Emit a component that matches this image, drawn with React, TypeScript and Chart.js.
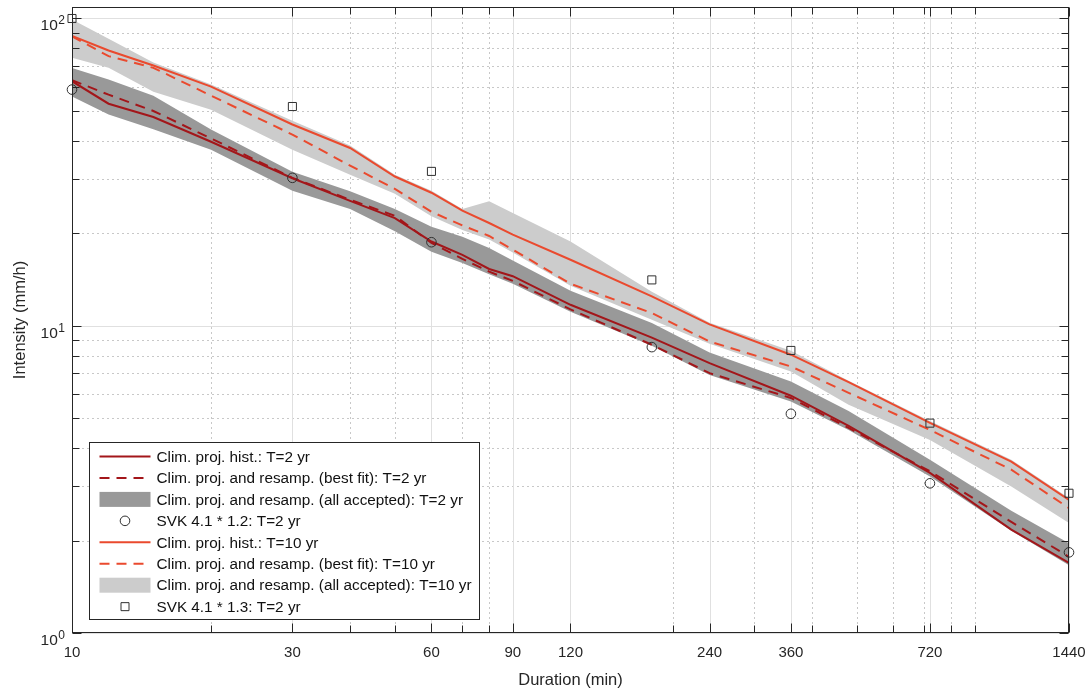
import React, { useEffect, useRef } from 'react';
import { Chart, registerables } from 'chart.js';

Chart.register(...registerables);

// ---------- data ----------
const DURATIONS = [10, 12, 15, 20, 30, 40, 50, 60, 70, 80, 90, 120, 180, 240, 360, 480, 720, 1080, 1440];

const HIST_T2 = [62.5, 52.8, 47.8, 39.7, 30.2, 25.5, 22.4, 18.8, 17.0, 15.3, 14.5, 11.7, 9.15, 7.56, 5.92, 4.72, 3.32, 2.17, 1.69];
const BEST_T2 = [63.0, 56.5, 50.0, 40.7, 30.3, 25.7, 22.8, 18.6, 16.5, 15.0, 14.0, 11.3, 8.67, 7.01, 5.82, 4.65, 3.36, 2.30, 1.77];
const BAND_T2_UPPER = [69.0, 63.3, 56.1, 43.5, 31.7, 27.4, 24.0, 21.0, 19.5, 17.9, 16.3, 13.0, 10.2, 8.18, 6.59, 5.28, 3.66, 2.50, 1.96];
const BAND_T2_LOWER = [55.7, 48.7, 43.6, 37.4, 27.5, 24.0, 20.3, 17.4, 16.0, 14.7, 13.7, 11.1, 8.61, 6.92, 5.67, 4.58, 3.23, 2.15, 1.66];

const HIST_T10 = [87.8, 78.7, 70.3, 60.0, 45.2, 37.9, 30.6, 27.1, 23.7, 21.6, 19.8, 16.4, 12.46, 10.1, 8.05, 6.55, 4.83, 3.61, 2.71];
const BEST_T10 = [87.5, 75.4, 69.1, 56.1, 41.9, 33.2, 27.9, 23.5, 21.2, 19.6, 17.7, 13.7, 11.0, 8.89, 7.37, 6.05, 4.58, 3.40, 2.55];
const BAND_T10_UPPER = [99.3, 85.9, 71.9, 61.0, 46.5, 38.6, 31.0, 27.5, 24.0, 25.4, 23.3, 18.8, 12.9, 10.23, 8.29, 6.62, 4.90, 3.66, 2.75];
const BAND_T10_LOWER = [74.5, 69.2, 57.8, 50.5, 37.4, 31.0, 26.9, 22.7, 20.5, 19.1, 17.3, 13.5, 10.46, 8.74, 7.10, 5.53, 4.25, 3.00, 2.28];

const SVK_DURATIONS = [10, 30, 60, 180, 360, 720, 1440];
const SVK_12 = [58.7, 30.3, 18.7, 8.52, 5.17, 3.07, 1.83];
const SVK_13 = [100, 51.7, 31.8, 14.1, 8.31, 4.82, 2.85];

const X_TICKS = [10, 30, 60, 90, 120, 240, 360, 720, 1440];
const X_TICK_LABELS = ['10', '30', '60', '90', '120', '240', '360', '720', '1440'];
const X_MINOR = [20, 30, 40, 50, 60, 70, 80, 90, 200, 300, 400, 500, 600, 700, 800, 900];
const Y_TICKS = [1, 10, 100];
const Y_TICK_BASE = ['10', '10', '10'];
const Y_TICK_EXP = ['0', '1', '2'];
const Y_MINOR = [2, 3, 4, 5, 6, 7, 8, 9, 20, 30, 40, 50, 60, 70, 80, 90];

const LABELS = {
  histT2: 'Clim. proj. hist.: T=2 yr',
  bestT2: 'Clim. proj. and resamp. (best fit): T=2 yr',
  bandT2: 'Clim. proj. and resamp. (all accepted): T=2 yr',
  svk12: 'SVK 4.1 * 1.2: T=2 yr',
  histT10: 'Clim. proj. hist.: T=10 yr',
  bestT10: 'Clim. proj. and resamp. (best fit): T=10 yr',
  bandT10: 'Clim. proj. and resamp. (all accepted): T=10 yr',
  svk13: 'SVK 4.1 * 1.3: T=2 yr',
};

// ---------- styles ----------
const DARK_RED = '#a3161a';
const LIGHT_RED = '#ea4a2e';
const DARK_GRAY = '#999999';
const LIGHT_GRAY = '#cccccc';
const AXIS_COLOR = '#262626';
const FONT = '"Liberation Sans", Arial, Helvetica, "DejaVu Sans", sans-serif';
const DASH = [10, 7];

const pts = (xs: number[], ys: number[]) => xs.map((x, i) => ({ x, y: ys[i] }));

// legend order: dataset indexes
const LEGEND_ORDER = [4, 5, 8, 1, 2, 3, 6, 0];

const matlabAxes = {
  id: 'matlabAxes',
  beforeDatasetsDraw(chart: any) {
    const { ctx, chartArea: a, scales } = chart;
    const x = scales.x, y = scales.y;
    ctx.save();
    ctx.lineWidth = 1;
    // minor dotted grid
    ctx.strokeStyle = 'rgb(200,200,200)';
    ctx.setLineDash([2, 3]);
    ctx.beginPath();
    X_MINOR.filter(v => !X_TICKS.includes(v)).forEach(v => {
      const px = Math.round(x.getPixelForValue(v)) + 0.5;
      ctx.moveTo(px, a.top); ctx.lineTo(px, a.bottom);
    });
    Y_MINOR.forEach(v => {
      const py = Math.round(y.getPixelForValue(v)) + 0.5;
      ctx.moveTo(a.left, py); ctx.lineTo(a.right, py);
    });
    ctx.stroke();
    // major solid grid
    ctx.setLineDash([]);
    ctx.strokeStyle = 'rgb(224,224,224)';
    ctx.beginPath();
    X_TICKS.forEach(v => {
      const px = Math.round(x.getPixelForValue(v)) + 0.5;
      ctx.moveTo(px, a.top); ctx.lineTo(px, a.bottom);
    });
    Y_TICKS.forEach(v => {
      const py = Math.round(y.getPixelForValue(v)) + 0.5;
      ctx.moveTo(a.left, py); ctx.lineTo(a.right, py);
    });
    ctx.stroke();
    ctx.restore();
  },
  afterDatasetsDraw(chart: any) {
    const { ctx, chartArea: a, scales } = chart;
    const x = scales.x, y = scales.y;
    ctx.save();
    ctx.strokeStyle = AXIS_COLOR;
    ctx.lineWidth = 1;
    ctx.setLineDash([]);
    const L = Math.round(a.left) + 0.5, R = Math.round(a.right) - 0.5;
    const T = Math.round(a.top) + 0.5, B = Math.round(a.bottom) - 0.5;
    ctx.strokeRect(L, T, R - L, B - T);
    ctx.beginPath();
    const xs = Array.from(new Set([...X_TICKS, ...X_MINOR]));
    xs.forEach(v => {
      const len = X_TICKS.includes(v) ? 9 : 7;
      const px = Math.round(x.getPixelForValue(v)) + 0.5;
      ctx.moveTo(px, B); ctx.lineTo(px, B - len);
      ctx.moveTo(px, T); ctx.lineTo(px, T + len);
    });
    const ys = [...Y_TICKS, ...Y_MINOR];
    ys.forEach(v => {
      const len = Y_TICKS.includes(v) ? 9 : 7;
      const py = Math.round(y.getPixelForValue(v)) + 0.5;
      ctx.moveTo(L, py); ctx.lineTo(L + len, py);
      ctx.moveTo(R, py); ctx.lineTo(R - len, py);
    });
    ctx.stroke();

    // tick labels
    ctx.fillStyle = AXIS_COLOR;
    ctx.font = `15px ${FONT}`;
    ctx.textAlign = 'center';
    ctx.textBaseline = 'top';
    X_TICKS.forEach((v, i) => {
      ctx.fillText(X_TICK_LABELS[i], x.getPixelForValue(v), a.bottom + 12);
    });
    ctx.textAlign = 'right';
    ctx.textBaseline = 'alphabetic';
    Y_TICKS.forEach((v, i) => {
      const py = y.getPixelForValue(v);
      const rx = a.left - 7;
      ctx.font = `12px ${FONT}`;
      const ew = ctx.measureText(Y_TICK_EXP[i]).width;
      ctx.fillText(Y_TICK_EXP[i], rx, py + 6);
      ctx.font = `15.5px ${FONT}`;
      ctx.fillText(Y_TICK_BASE[i], rx - ew - 0.5, py + 12);
    });
    ctx.restore();
  },
  afterDraw(chart: any) {
    const { ctx, chartArea: a } = chart;
    const dss = chart.data.datasets;
    const rowH = 21.45;
    const boxL = Math.round(a.left) + 17.5;
    const boxW = 390;
    const boxH = 177;
    const boxT = Math.round(a.bottom) - 14 - boxH + 0.5;
    ctx.save();
    ctx.fillStyle = '#ffffff';
    ctx.fillRect(boxL, boxT, boxW, boxH);
    ctx.strokeStyle = AXIS_COLOR;
    ctx.lineWidth = 1;
    ctx.strokeRect(boxL, boxT, boxW, boxH);
    ctx.font = `15.3px ${FONT}`;
    ctx.textBaseline = 'middle';
    ctx.textAlign = 'left';
    const sx0 = boxL + 10, sx1 = boxL + 61, tx = boxL + 67;
    LEGEND_ORDER.forEach((idx, r) => {
      const ds = dss[idx];
      const cy = boxT + 14 + r * rowH;
      if (ds.fill) {
        ctx.fillStyle = ds.backgroundColor;
        ctx.fillRect(sx0, cy - 7.5, sx1 - sx0, 15);
      } else if (ds.showLine === false) {
        ctx.strokeStyle = ds.borderColor;
        ctx.lineWidth = 1;
        const cx = (sx0 + sx1) / 2;
        ctx.beginPath();
        if (ds.pointStyle === 'rect') {
          ctx.rect(cx - 4, cy - 4, 8, 8);
        } else {
          ctx.arc(cx, cy, ds.pointRadius, 0, Math.PI * 2);
        }
        ctx.stroke();
      } else {
        ctx.strokeStyle = ds.borderColor;
        ctx.lineWidth = ds.borderWidth;
        ctx.setLineDash(ds.borderDash || []);
        ctx.beginPath();
        ctx.moveTo(sx0, cy); ctx.lineTo(sx1, cy);
        ctx.stroke();
        ctx.setLineDash([]);
      }
      ctx.fillStyle = '#111111';
      ctx.fillText(ds.label, tx, cy + 1);
    });
    ctx.restore();
  },
};

export default function App() {
  const ref = useRef<HTMLCanvasElement | null>(null);
  useEffect(() => {
    if (!ref.current) return;
    const transparent = 'rgba(0,0,0,0)';
    const chart = new Chart(ref.current, {
      type: 'line',
      data: {
        datasets: [
          { label: LABELS.svk13, data: pts(SVK_DURATIONS, SVK_13), showLine: false, clip: false, pointStyle: 'rect', pointRadius: 5.7, pointBorderWidth: 1, borderWidth: 1, borderColor: '#303030', pointBorderColor: '#303030', backgroundColor: transparent, pointBackgroundColor: transparent },
          { label: LABELS.svk12, data: pts(SVK_DURATIONS, SVK_12), showLine: false, clip: false, pointStyle: 'circle', pointRadius: 4.8, pointBorderWidth: 1, borderWidth: 1, borderColor: '#303030', pointBorderColor: '#303030', backgroundColor: transparent, pointBackgroundColor: transparent },
          { label: LABELS.histT10, data: pts(DURATIONS, HIST_T10), borderColor: LIGHT_RED, borderWidth: 2, pointRadius: 0, tension: 0, fill: false },
          { label: LABELS.bestT10, data: pts(DURATIONS, BEST_T10), borderColor: LIGHT_RED, borderWidth: 2, borderDash: DASH, pointRadius: 0, tension: 0, fill: false },
          { label: LABELS.histT2, data: pts(DURATIONS, HIST_T2), borderColor: DARK_RED, borderWidth: 2, pointRadius: 0, tension: 0, fill: false },
          { label: LABELS.bestT2, data: pts(DURATIONS, BEST_T2), borderColor: DARK_RED, borderWidth: 2, borderDash: DASH, pointRadius: 0, tension: 0, fill: false },
          { label: LABELS.bandT10, data: pts(DURATIONS, BAND_T10_UPPER), borderColor: transparent, borderWidth: 1, backgroundColor: LIGHT_GRAY, pointRadius: 0, tension: 0, fill: '+1' },
          { label: '', data: pts(DURATIONS, BAND_T10_LOWER), borderColor: transparent, borderWidth: 1, pointRadius: 0, tension: 0, fill: false },
          { label: LABELS.bandT2, data: pts(DURATIONS, BAND_T2_UPPER), borderColor: transparent, borderWidth: 1, backgroundColor: DARK_GRAY, pointRadius: 0, tension: 0, fill: '+1' },
          { label: '', data: pts(DURATIONS, BAND_T2_LOWER), borderColor: transparent, borderWidth: 1, pointRadius: 0, tension: 0, fill: false },
        ] as any,
      },
      options: {
        animation: false,
        responsive: false,
        maintainAspectRatio: false,
        layout: { padding: { top: 7, right: 19, left: 0, bottom: 0 } },
        plugins: { legend: { display: false }, tooltip: { enabled: false } },
        scales: {
          x: {
            type: 'logarithmic',
            min: 10,
            max: 1440,
            afterBuildTicks: (s: any) => { s.ticks = X_TICKS.map(v => ({ value: v })); },
            afterFit: (s: any) => { s.height = 59; },
            grid: { display: false, drawTicks: false },
            border: { display: false },
            ticks: { display: false },
            title: { display: true, text: 'Duration (min)', color: AXIS_COLOR, font: { family: FONT, size: 16.5 }, padding: { top: 0, bottom: 2 } },
          },
          y: {
            type: 'logarithmic',
            min: 1,
            max: 109,
            afterBuildTicks: (s: any) => { s.ticks = Y_TICKS.map(v => ({ value: v })); },
            afterFit: (s: any) => { s.width = 72; },
            grid: { display: false, drawTicks: false },
            border: { display: false },
            ticks: { display: false },
            title: { display: true, text: 'Intensity (mm/h)', color: AXIS_COLOR, font: { family: FONT, size: 16.5 }, padding: { top: 11, bottom: 0 } },
          },
        },
      } as any,
      plugins: [matlabAxes],
    });
    return () => chart.destroy();
  }, []);
  return (
    <div style={{ position: 'absolute', left: 0, top: 0, width: 1088, height: 692, background: '#ffffff' }}>
      <canvas ref={ref} width={1088} height={692} style={{ display: 'block' }} />
    </div>
  );
}
